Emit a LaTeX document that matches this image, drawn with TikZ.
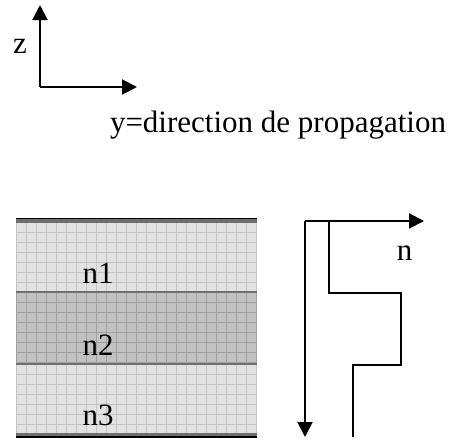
\documentclass[tikz,border=0pt]{standalone}
\usepackage{fontspec}
\setmainfont{Liberation Serif}
\usetikzlibrary{arrows.meta}
\definecolor{layerlight}{HTML}{E2E2E2}
\definecolor{gridlight}{HTML}{C4C4C4}
\definecolor{layerdark}{HTML}{C2C2C2}
\definecolor{griddark}{HTML}{A0A0A0}
\definecolor{bordergray}{HTML}{6E6E6E}
\tikzset{
  lbl/.style={anchor=base,inner sep=0pt,font=\fontsize{15.5}{18}\selectfont},
  axis/.style={line width=1pt,-{Triangle[length=7.5pt,width=7.5pt]}},
  prof/.style={line width=1pt},
  gl/.style={gridlight,line width=0.5pt},
  gd/.style={griddark,line width=0.5pt},
}
\begin{document}
\begin{tikzpicture}[x=0.5pt,y=-0.5pt]
\useasboundingbox (0,0) rectangle (455,439);
% axes
\coordinate (o) at (40,87);
\coordinate (zt) at (40,5);
\coordinate (yt) at (137,87);
\draw[axis] (o) -- (zt);
\draw[axis] (o) -- (yt);
\node[lbl] (zl) at (20,53) {z};
\node[lbl] (yl) at (278,132) {y=direction de propagation};
% layers
\fill[layerlight] (16,218) rectangle (257,292);
\fill[layerdark] (16,292) rectangle (257,364);
\fill[layerlight] (16,364) rectangle (257,435);
\begin{scope}
\clip (16,218) rectangle (257,292);
\foreach \i in {0,...,24} \draw[gl] (16.5+\i*10,218) -- (16.5+\i*10,292);
\foreach \j in {0,...,8} \draw[gl] (16,222.5+\j*10) -- (257,222.5+\j*10);
\end{scope}
\begin{scope}
\clip (16,292) rectangle (257,364);
\foreach \i in {0,...,24} \draw[gd] (16.5+\i*10,292) -- (16.5+\i*10,364);
\foreach \j in {0,...,7} \draw[gd] (16,292.5+\j*10) -- (257,292.5+\j*10);
\end{scope}
\begin{scope}
\clip (16,364) rectangle (257,435);
\foreach \i in {0,...,24} \draw[gl] (16.5+\i*10,364) -- (16.5+\i*10,435);
\foreach \j in {0,...,7} \draw[gl] (16,364.5+\j*10) -- (257,364.5+\j*10);
\end{scope}
\fill[bordergray] (16,218) rectangle (257,222.5);
\draw[black,line width=0.6pt] (16,218.3) -- (257,218.3);
\draw[bordergray,line width=0.8pt] (16,292) -- (257,292);
\draw[bordergray,line width=0.8pt] (16,364) -- (257,364);
\fill[bordergray] (16,433) rectangle (257,435.5);
\fill[black] (16,435.5) rectangle (257,438);
\node[lbl] (n1) at (98,283) {n1};
\node[lbl] (n2) at (98,355) {n2};
\node[lbl] (n3) at (98,425) {n3};
% index profile
\coordinate (a) at (305,221);
\coordinate (ntip) at (424,221);
\coordinate (dtip) at (305,437);
\draw[axis] (a) -- (ntip);
\draw[axis] (a) -- (dtip);
\coordinate (p0) at (329,221);
\coordinate (p1) at (329,293);
\coordinate (p2) at (401,293);
\coordinate (p3) at (401,365);
\coordinate (p4) at (353,365);
\coordinate (p5) at (353,437);
\draw[prof] (p0) -- (p1) -- (p2) -- (p3) -- (p4) -- (p5);
\node[lbl] (nl) at (404.5,260) {n};
\end{tikzpicture}
\end{document}
